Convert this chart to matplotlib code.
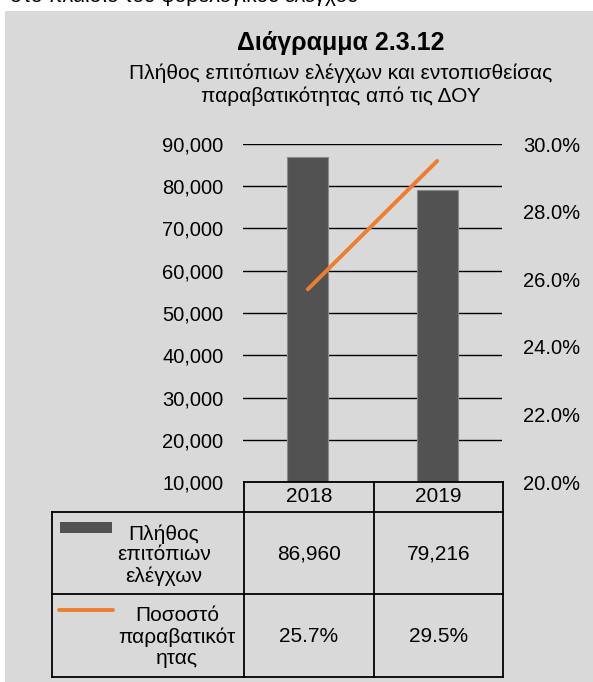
import matplotlib.pyplot as plt
from matplotlib.patches import Rectangle
from matplotlib.ticker import FuncFormatter

plt.rcParams['font.family'] = ['Liberation Sans', 'DejaVu Sans']

years = ['2018', '2019']
checks = [86960, 79216]
rate = [0.257, 0.295]
row_labels = ['Πλήθος\nεπιτόπιων\nελέγχων', 'Ποσοστό\nπαραβατικότ\nητας']
bar_color = '#525252'
line_color = '#ED7D31'
bg = '#d9d9d9'

W, H = 593, 682
fig = plt.figure(figsize=(W / 100, H / 100), dpi=100)
fig.patch.set_facecolor('white')

# grey panel + clipped line of text from the page above
fig.add_artist(Rectangle((5 / W, 0), 1, 1 - 11 / H, transform=fig.transFigure,
                         facecolor=bg, edgecolor='none', zorder=0))
fig.text(10 / W, 1 - 1.5 / H, 'στο πλαίσιο του φορολογικού ελέγχου', fontsize=15,
         va='baseline', ha='left', color='black')

ax = fig.add_axes([243 / W, 1 - 482 / H, 259 / W, 338 / H])
ax.set_facecolor('none')
x = range(len(years))
ax.bar(x, checks, width=0.32, color=bar_color, edgecolor='#8a8a8a', linewidth=0.8, zorder=3)
ax.set_xlim(-0.5, 1.5)
ax.set_ylim(10000, 90000)
ax.set_yticks(range(10000, 90001, 10000))
ax.yaxis.set_major_formatter(FuncFormatter(lambda v, p: f'{v:,.0f}'))
ax.grid(axis='y', color='black', linewidth=1.0, zorder=1)
ax.set_xticks([])
ax.tick_params(axis='y', length=0, pad=14, labelsize=14.5)
for s in ax.spines.values():
    s.set_visible(False)

ax2 = ax.twinx()
ax2.plot(x, rate, color=line_color, linewidth=2.8, solid_capstyle='round', zorder=4)
ax2.set_ylim(0.20, 0.30)
ax2.set_yticks([0.20, 0.22, 0.24, 0.26, 0.28, 0.30])
ax2.yaxis.set_major_formatter(FuncFormatter(lambda v, p: f'{v * 100:.1f}%'))
ax2.tick_params(axis='y', length=0, pad=15, labelsize=14.5)
for s in ax2.spines.values():
    s.set_visible(False)

fig.text(341 / W, 1 - 50 / H, 'Διάγραμμα 2.3.12', fontsize=18, fontweight='bold',
         ha='center', va='baseline')
fig.text(341 / W, 1 - 79 / H, 'Πλήθος επιτόπιων ελέγχων και εντοπισθείσας', fontsize=15,
         ha='center', va='baseline')
fig.text(341 / W, 1 - 102 / H, 'παραβατικότητας από τις ΔΟΥ', fontsize=15,
         ha='center', va='baseline')

# data table under the chart, drawn in pixel coordinates
tb = fig.add_axes([0, 0, 1, 1])
tb.set_xlim(0, W)
tb.set_ylim(H, 0)
tb.axis('off')
lw = 1.3
cols = [244, 374, 503]
tb.plot([244, 503], [482, 482], color='black', lw=lw)
tb.plot([52, 503], [512, 512], color='black', lw=lw)
tb.plot([52, 503], [594, 594], color='black', lw=lw)
tb.plot([52, 503], [677, 677], color='black', lw=lw)
for cx in cols:
    tb.plot([cx, cx], [482, 677], color='black', lw=lw)
tb.plot([52, 52], [512, 677], color='black', lw=lw)

centers = [(cols[i] + cols[i + 1]) / 2 for i in range(2)]
for c, yr in zip(centers, years):
    tb.text(c, 497, yr, ha='center', va='center', fontsize=15)
for c, v in zip(centers, checks):
    tb.text(c, 554, f'{v:,}', ha='center', va='center', fontsize=15)
for c, v in zip(centers, rate):
    tb.text(c, 636, f'{v * 100:.1f}%', ha='center', va='center', fontsize=15)

tb.add_patch(Rectangle((60, 522), 52, 11, facecolor=bar_color, edgecolor='none'))
tb.plot([59, 113], [610, 610], color=line_color, lw=2.8, solid_capstyle='round')
tb.text(164, 555, row_labels[0], ha='center', va='center', fontsize=15, linespacing=1.12)
tb.text(177, 637, row_labels[1], ha='center', va='center', fontsize=15, linespacing=1.12)

fig.savefig('out.png', dpi=100)
